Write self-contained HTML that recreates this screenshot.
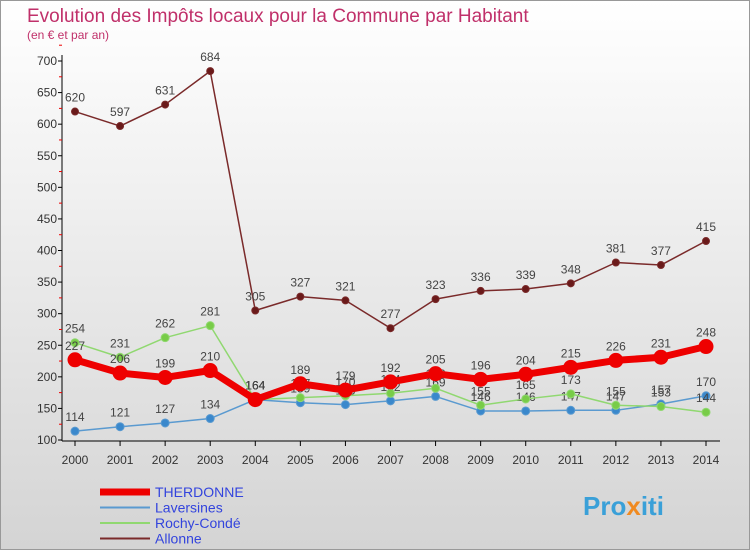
<!DOCTYPE html>
<html><head><meta charset="utf-8"><style>
body{margin:0;width:750px;height:550px;overflow:hidden;font-family:"Liberation Sans",sans-serif}
#c{position:absolute;left:0;top:0}
</style></head><body>
<svg id="c" width="750" height="550">
<defs><linearGradient id="bg" x1="0" y1="0" x2="0" y2="1"><stop offset="0" stop-color="#ffffff"/><stop offset="1" stop-color="#d4d4d4"/></linearGradient></defs>
<rect x="0.5" y="0.5" width="749" height="549" fill="url(#bg)" stroke="#999"/>
<text x="27" y="22" font-size="19" fill="#c0306a">Evolution des Impôts locaux pour la Commune par Habitant</text>
<text x="27" y="39" font-size="12" fill="#c0306a">(en € et par an)</text>
<g id="axes"></g><g id="series"></g><g id="legend"></g>
<text x="583" y="515" font-size="26" font-weight="bold" fill="#3aa0d8">Pro<tspan fill="#f08a20">x</tspan>iti</text>
</svg>
<script>
const years=[2000,2001,2002,2003,2004,2005,2006,2007,2008,2009,2010,2011,2012,2013,2014];
const yTicks=[100,150,200,250,300,350,400,450,500,550,600,650,700];
const therdonne=[227,206,199,210,164,189,179,192,205,196,204,215,226,231,248];
const laversines=[114,121,127,134,164,159,156,162,169,146,146,147,147,157,170];
const rochy=[254,231,262,281,164,167,170,174,182,155,165,173,155,153,144];
const allonne=[620,597,631,684,305,327,321,277,323,336,339,348,381,377,415];
const NS='http://www.w3.org/2000/svg';
function X(i){return 75+i*(706-75)/(years.length-1);}
function Y(v){return 440-(v-100)*(440-61)/600;}
function mk(t,a,p){const e=document.createElementNS(NS,t);for(const k in a)e.setAttribute(k,a[k]);p.appendChild(e);return e;}
const ax=document.getElementById('axes');
const yl=mk('line',{x1:62,y1:55,x2:62,y2:441,stroke:'#000'},ax);


const xl=mk('line',{x1:62,y1:441,x2:720,y2:441,stroke:'#000'},ax);


yTicks.forEach(v=>{
 mk('line',{x1:58,y1:Y(v),x2:62,y2:Y(v),stroke:'#000'},ax);
 mk('line',{x1:59,y1:Y(v+25),x2:62,y2:Y(v+25),stroke:'#e00'},ax);
 const t=mk('text',{x:57,y:Y(v)+4,'font-size':12,'text-anchor':'end',fill:'#333'},ax);
 t.textContent=v;
 
 
});
years.forEach((yr,i)=>{
 mk('line',{x1:X(i),y1:441,x2:X(i),y2:446,stroke:'#000'},ax);
 const t=mk('text',{x:X(i),y:464,'font-size':12,'text-anchor':'middle',fill:'#333'},ax);
 t.textContent=yr;
 
 
});
const sg=document.getElementById('series');
function series(data,color,w,r,name,dot){
 const g=mk('g',{},sg);
 
 
 const pl=mk('polyline',{points:data.map((v,i)=>X(i)+','+Y(v)).join(' '),fill:'none',stroke:color,'stroke-width':w,'stroke-linejoin':'round'},g);
 
 
 data.forEach((v,i)=>{
  const c=mk('circle',{cx:X(i),cy:Y(v),r:r,fill:dot,stroke:color,'stroke-width':1},g);
  
  
  const t=mk('text',{x:X(i),y:Y(v)-10,'font-size':12,'text-anchor':'middle',fill:'#444'},g);
  t.textContent=v;
  
  
 });
}
series(allonne,'#7a2a2a',1.5,3.5,'allonne','#6a1a1a');
series(laversines,'#5a9ad0',1.5,4,'laversines','#3a88cc');
series(rochy,'#90d870',1.5,4,'rochy-conde','#78cc48');
series(therdonne,'#ee0000',7,7,'therdonne','#ee0000');
const lg=document.getElementById('legend');
const items=[['THERDONNE','#ee0000',7],['Laversines','#5a9ad0',2],['Rochy-Condé','#90d870',2],['Allonne','#7a2a2a',2]];
items.forEach((it,i)=>{
 const y=492+i*15.5;
 const l=mk('line',{x1:100,y1:y,x2:150,y2:y,stroke:it[1],'stroke-width':it[2]},lg);
 
 
 const t=mk('text',{x:155,y:y+5,'font-size':14,fill:'#3344dd'},lg);
 t.textContent=it[0];
 
 
});
</script>
</body></html>
